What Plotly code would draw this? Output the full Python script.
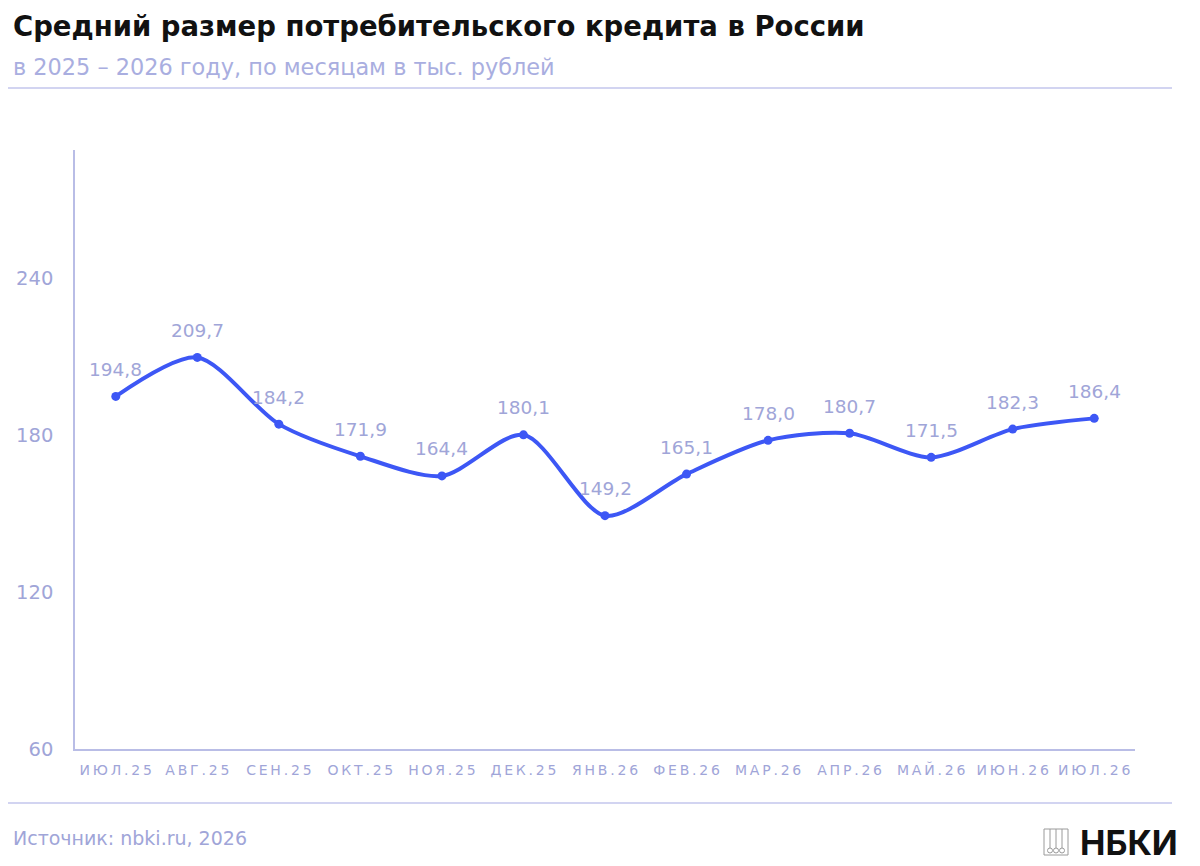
import plotly.graph_objects as go

# данные
months = ["ИЮЛ.25", "АВГ.25", "СЕН.25", "ОКТ.25", "НОЯ.25", "ДЕК.25", "ЯНВ.26",
          "ФЕВ.26", "МАР.26", "АПР.26", "МАЙ.26", "ИЮН.26", "ИЮЛ.26"]
avg_loan = [194.8, 209.7, 184.2, 171.9, 164.4, 180.1, 149.2,
            165.1, 178.0, 180.7, 171.5, 182.3, 186.4]
y_ticks = [60, 120, 180, 240]

# страница сдвинута на 8px отступом body
OFF = 8
W, H = 1200 - OFF, 866 - OFF
PL, PR, PT, PB = 75, 1135, 150, 749  # границы области графика на снимке

BLUE = "#3d57f5"
LAV = "#a0a5d8"
AXIS = "#b9bde6"
FONT = "DejaVu Sans"


def px(x):
    return (x - PL) / (PR - PL)


def py(y):
    return (PB - y) / (PB - PT)


def spaced(s):
    # разрядка букв, как в оригинале
    return "\u2009".join(s)


labels = [f"{v:.1f}".replace(".", ",") for v in avg_loan]
xs = list(range(len(months)))

fig = go.Figure()
fig.add_trace(go.Scatter(
    x=xs, y=avg_loan,
    mode="lines+markers",
    line=dict(color=BLUE, width=4, shape="spline", smoothing=0.8),
    marker=dict(size=9, color=BLUE),
    hoverinfo="skip",
))

for x, v, t in zip(xs, avg_loan, labels):
    fig.add_annotation(x=x, y=v, text=t, showarrow=False, yshift=27,
                       font=dict(family=FONT, size=18.5, color=LAV))

fig.update_layout(
    template="none",
    width=W, height=H,
    margin=dict(l=PL - OFF, r=W - (PR - OFF), t=PT - OFF, b=H - (PB - OFF)),
    paper_bgcolor="white", plot_bgcolor="white",
    showlegend=False,
    xaxis=dict(
        range=[-0.5, 12.5], automargin=False,
        tickvals=xs, ticktext=[spaced(m) for m in months],
        tickfont=dict(family=FONT, size=14, color=LAV),
        showgrid=False, zeroline=False,
        showline=True, linecolor=AXIS, linewidth=1.5,
        ticks="", ticklabelstandoff=7,
    ),
    yaxis=dict(
        range=[60, 289], automargin=False,
        tickvals=y_ticks,
        tickfont=dict(family=FONT, size=19.5, color=LAV),
        showgrid=False, zeroline=False,
        showline=True, linecolor=AXIS, linewidth=1.5,
        ticks="", ticklabelstandoff=16,
    ),
)

# заголовок, подзаголовок, источник
fig.add_annotation(text="<b>Средний размер потребительского кредита в России</b>",
                   xref="paper", yref="paper", x=px(11), y=py(OFF),
                   xanchor="left", yanchor="top", showarrow=False,
                   font=dict(family=FONT, size=27.5, color="#111111"))
fig.add_annotation(text="в 2025 – 2026 году, по месяцам в тыс. рублей",
                   xref="paper", yref="paper", x=px(11), y=py(67),
                   xanchor="left", yanchor="middle", showarrow=False,
                   font=dict(family=FONT, size=22.4, color="#a9aee0"))
fig.add_annotation(text="Источник: nbki.ru, 2026",
                   xref="paper", yref="paper", x=px(11), y=py(838),
                   xanchor="left", yanchor="middle", showarrow=False,
                   font=dict(family=FONT, size=19, color=LAV))
fig.add_annotation(text="<b>НБКИ</b>",
                   xref="paper", yref="paper", x=px(1180), y=py(842),
                   xanchor="right", yanchor="middle", showarrow=False,
                   font=dict(family="Inter", size=34, color="#111111"))

# разделительные линии
for yy, x0, x1 in [(88, 8, 1172), (803, 8, 1172)]:
    fig.add_shape(type="line", xref="paper", yref="paper",
                  x0=px(x0), x1=px(x1), y0=py(yy), y1=py(yy),
                  line=dict(color="#c3c6ec", width=1.5))

# значок логотипа
ICON = "#9a9a9a"
fig.add_shape(type="rect", xref="paper", yref="paper",
              x0=px(1044), x1=px(1068), y0=py(855), y1=py(829),
              line=dict(color=ICON, width=1))
for cx in [1050, 1056, 1062]:
    fig.add_shape(type="line", xref="paper", yref="paper",
                  x0=px(cx), x1=px(cx), y0=py(848), y1=py(829),
                  line=dict(color=ICON, width=1))
    fig.add_shape(type="circle", xref="paper", yref="paper",
                  x0=px(cx - 2.5), x1=px(cx + 2.5), y0=py(853), y1=py(848),
                  line=dict(color=ICON, width=1))

fig.write_html("out.html")
